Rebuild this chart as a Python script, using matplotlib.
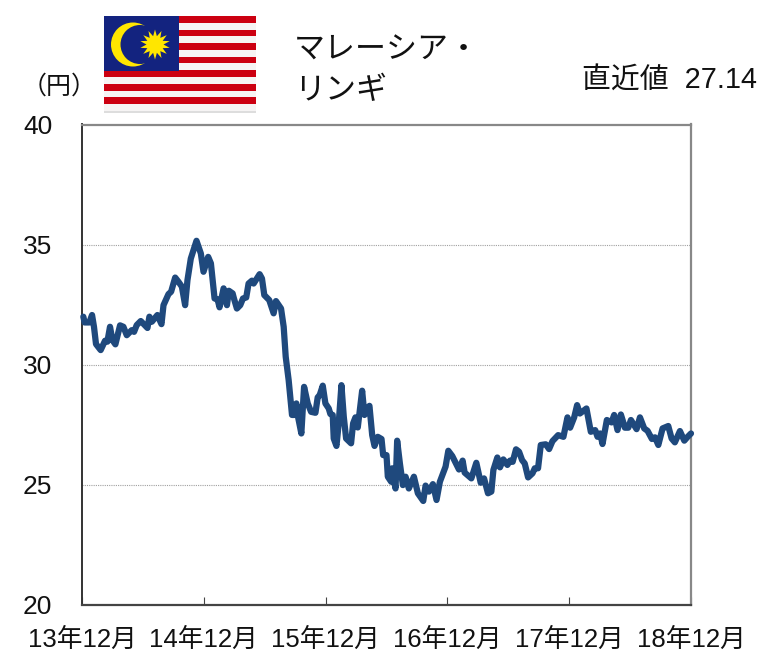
import numpy as np
import matplotlib
matplotlib.use("Agg")
import matplotlib.pyplot as plt
from matplotlib.patches import Rectangle, Polygon, Circle

plt.rcParams['font.family'] = ['Liberation Sans', 'Noto Sans CJK JP', 'DejaVu Sans']

W, H = 759, 657

# Months elapsed since December 2013
months = [0.13,0.26,0.72,0.99,1.18,1.38,1.84,2.27,2.50,2.76,2.99,3.29,3.75,4.08,4.41,4.90,5.13,5.39,5.79,6.45,
          6.64,6.88,7.43,7.83,8.03,8.52,8.78,9.18,9.51,9.84,10.16,10.39,10.72,11.28,11.71,11.97,12.43,12.70,13.06,13.36,
          13.55,13.95,14.28,14.47,14.84,14.97,15.26,15.59,15.86,16.18,16.41,16.74,16.91,17.50,17.73,17.96,18.45,18.88,19.11,19.61,
          19.87,20.07,20.36,20.69,20.92,21.12,21.28,21.61,21.88,22.24,22.57,23.00,23.22,23.42,23.72,23.98,24.31,24.47,24.70,24.80,
          25.07,25.29,25.56,25.79,26.02,26.51,26.71,26.94,27.17,27.60,27.83,28.32,28.59,28.82,29.14,29.51,29.67,30.00,30.13,30.46,
          30.56,30.89,31.05,31.32,31.61,31.88,32.20,32.70,33.09,33.62,33.85,34.18,34.57,34.93,35.26,35.82,36.09,36.48,37.14,37.50,
          37.70,38.36,38.85,39.28,39.61,40.00,40.33,40.53,40.92,41.18,41.51,41.91,42.17,42.43,42.76,43.06,43.36,43.62,43.95,44.38,
          44.61,44.93,45.20,45.69,46.02,46.35,46.91,47.43,47.83,48.09,48.49,48.78,49.05,49.70,50.13,50.56,50.79,51.05,51.28,51.71,
          52.17,52.43,52.76,53.09,53.49,53.82,54.08,54.64,54.97,55.39,55.72,56.15,56.45,56.78,57.20,57.76,58.09,58.41,58.91,59.34,
          59.67,60.00]

# MYR/JPY rate
rates = [32.00,31.76,31.76,32.07,31.58,30.86,30.61,31.00,30.96,31.58,31.03,30.85,31.64,31.58,31.23,31.44,31.37,31.65,31.82,31.53,
         32.00,31.79,32.07,31.69,32.48,32.94,33.04,33.63,33.45,33.25,32.48,33.52,34.42,35.16,34.63,33.87,34.49,34.22,32.76,32.72,
         32.39,33.18,32.48,33.08,32.97,32.76,32.34,32.48,32.76,32.80,33.38,33.50,33.38,33.77,33.59,32.90,32.69,32.14,32.65,32.34,
         31.58,30.33,29.36,27.91,27.91,28.39,27.84,27.14,29.08,28.39,28.04,28.00,28.64,28.74,29.13,28.39,28.18,27.95,27.91,26.93,
         26.62,27.56,29.15,27.84,26.93,26.73,27.56,27.81,27.39,28.92,27.91,28.29,27.07,26.62,27.00,26.91,26.24,26.24,25.34,25.13,
         25.69,24.85,26.84,25.89,24.99,25.34,24.85,25.34,24.65,24.33,24.97,24.72,25.03,24.37,25.13,25.76,26.42,26.20,25.64,26.01,
         25.51,25.27,25.92,25.09,25.27,24.65,24.72,25.62,26.14,25.73,26.06,25.83,26.01,25.96,26.48,26.38,26.03,25.89,25.31,25.48,
         25.69,25.69,26.66,26.69,26.49,26.82,27.07,27.00,27.81,27.38,27.81,28.32,27.97,28.18,27.21,27.28,27.00,27.14,26.70,27.70,
         27.60,27.91,27.28,27.93,27.38,27.38,27.70,27.32,27.81,27.35,27.25,26.91,26.98,26.66,27.35,27.45,26.93,26.77,27.24,26.84,
         27.00,27.14]

x_ticks = [0, 12, 24, 36, 48, 60]
x_labels = ['13年12月', '14年12月', '15年12月', '16年12月', '17年12月', '18年12月']
y_ticks = [20, 25, 30, 35, 40]
grid_levels = [25, 30, 35]

title_lines = ['マレーシア・', 'リンギ']
latest_label = '直近値  27.14'
unit_label = '（円）'

fig = plt.figure(figsize=(W / 100, H / 100), dpi=100, facecolor='white')


def rect_px(l, t, r, b):
    return [l / W, 1 - b / H, (r - l) / W, (b - t) / H]


ax = fig.add_axes(rect_px(82, 124.5, 691, 605))
ax.set_xlim(0, 60)
ax.set_ylim(20, 40)
for lev in grid_levels:
    ax.axhline(lev, color='#a0a0a0', lw=0.8, ls=(0, (1, 1)), zorder=1)
ax.plot(months, rates, color='#1F497D', lw=4.5, solid_joinstyle='round', solid_capstyle='round',
        zorder=3, clip_on=False)
ax.set_xticks(x_ticks, x_labels)
ax.set_yticks(y_ticks)
ax.tick_params(axis='x', direction='in', length=5.5, width=0.8, color='#444444',
               labelsize=18.5, labelcolor='#111111', pad=16)
ax.tick_params(axis='y', length=0, labelsize=19, labelcolor='#111111', pad=21.5)
ax.spines['left'].set(color='#333333', lw=1.4)
ax.spines['bottom'].set(color='#444444', lw=1.6)
ax.spines['top'].set(color='#888888', lw=1.6)
ax.spines['right'].set(color='#888888', lw=1.6)

fig.text(294 / W, 1 - 51 / H, title_lines[0], fontsize=22.3, va='center', ha='left', color='#111111')
fig.text(294 / W, 1 - 91 / H, title_lines[1], fontsize=22.3, va='center', ha='left', color='#111111')
fig.text(757 / W, 1 - 81 / H, latest_label, fontsize=20.8, va='center', ha='right', color='#111111')
fig.text(59 / W, 1 - 87 / H, unit_label, fontsize=18, va='center', ha='center', color='#111111')

# Flag of Malaysia, in its own pixel-scaled inset
fl = fig.add_axes(rect_px(104, 16, 256, 113), zorder=5)
fl.set_xlim(104, 256)
fl.set_ylim(113, 16)
fl.axis('off')
fl.add_patch(Rectangle((104, 16), 152, 96, fc='#f6f4f4', ec='none'))
fl.add_patch(Rectangle((104, 110.5), 152, 2, fc='#dddddd', ec='none'))
stripe_h = 95 / 14
for i in range(0, 14, 2):
    fl.add_patch(Rectangle((104, 16 + i * stripe_h), 152, stripe_h, fc='#CC0011', ec='none'))
fl.add_patch(Rectangle((104, 16), 75, 55, fc='#13237F', ec='none'))
fl.add_patch(Circle((133, 44.5), 22, fc='#FFE600', ec='none'))
fl.add_patch(Circle((140, 44.5), 19.5, fc='#13237F', ec='none'))
n_rays = 14
ang = np.linspace(0, 2 * np.pi, 2 * n_rays, endpoint=False) - np.pi / 2
rad = np.where(np.arange(2 * n_rays) % 2 == 0, 15, 8.5)
fl.add_patch(Polygon(np.c_[155 + rad * np.cos(ang), 44.5 + rad * np.sin(ang)], fc='#FFE600', ec='none'))

fig.savefig('out.png', dpi=100, facecolor='white')
